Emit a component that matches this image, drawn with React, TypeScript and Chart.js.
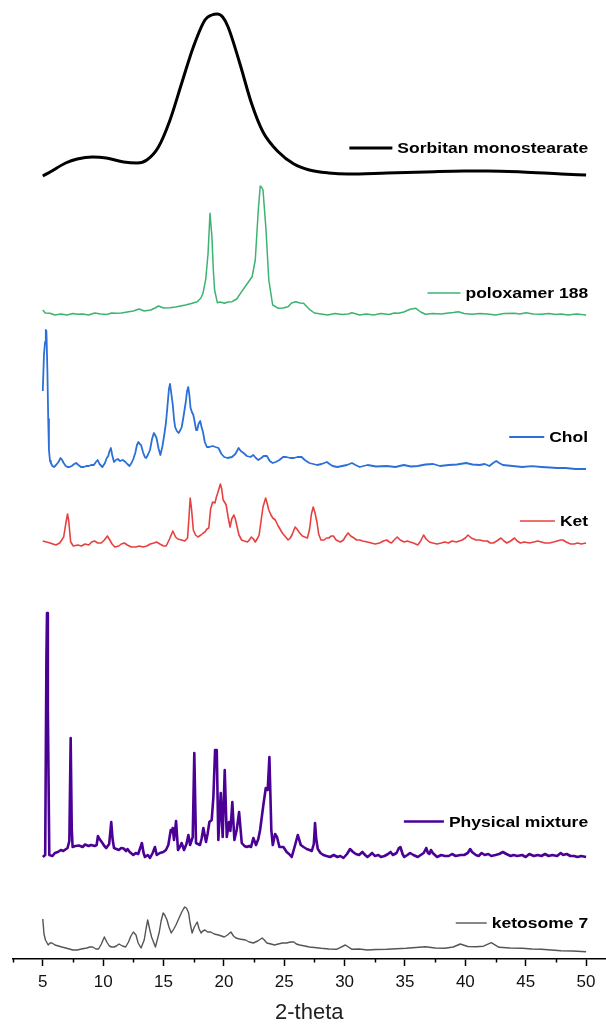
import React, { useEffect, useRef } from 'react';
import { Chart, registerables } from 'chart.js';

Chart.register(...registerables);

// 2-theta positions (deg) and stacked intensities (a.u.) for each diffractogram
const sorbitanTheta = [5.0, 5.61, 6.89, 7.85, 9.13, 10.26, 11.7, 12.82, 13.62, 14.58, 15.54, 16.51, 17.47, 18.43, 19.0, 19.45, 19.9, 20.35, 21.31, 22.28, 23.24, 24.52, 25.8, 27.08, 28.69, 30.29, 33.49, 36.7, 39.9, 41.83, 44.71, 47.92, 50.0];
const sorbitanI = [783, 787, 796, 800, 802, 801, 797, 796, 799, 812, 839, 876, 912, 939, 944, 945, 942, 932, 896, 856, 827, 807, 795, 789, 786, 785, 786, 787, 788, 788, 787, 785, 784];

const poloxamerTheta = [5.0, 5.2, 5.6, 6.0, 6.5, 7.0, 7.5, 7.85, 8.3, 8.8, 9.3, 9.8, 10.3, 10.7, 11.06, 11.5, 12.0, 12.5, 12.98, 13.4, 13.94, 14.3, 14.58, 15.0, 15.54, 16.0, 16.4, 16.83, 17.3, 17.79, 18.1, 18.27, 18.5, 18.69, 18.85, 19.01, 19.12, 19.23, 19.46, 19.7, 20.04, 20.35, 20.68, 21.06, 21.47, 21.96, 22.34, 22.6, 22.85, 23.01, 23.12, 23.24, 23.49, 23.72, 24.04, 24.52, 24.9, 25.32, 25.6, 25.96, 26.3, 26.6, 27.08, 27.5, 28.04, 28.6, 29.2, 29.8, 30.29, 30.61, 31.25, 31.8, 32.4, 33.0, 33.7, 34.1, 34.46, 34.9, 35.42, 35.9, 36.3, 36.7, 37.3, 37.98, 38.6, 39.0, 39.42, 39.9, 40.54, 41.2, 41.83, 42.5, 43.2, 44.07, 44.5, 45.03, 45.6, 46.31, 46.9, 47.5, 47.92, 48.5, 49.2, 50.0];
const poloxamerI = [649, 646, 645.7, 644, 645, 644, 645.5, 644.7, 645, 644, 646, 645, 644.5, 646, 645.7, 646, 647, 648, 650, 648, 649, 651, 653, 651, 651.3, 652, 653, 654, 655.5, 657.3, 661, 665.7, 680, 705.7, 745.7, 722.3, 690, 669, 656.3, 657, 655.7, 657, 657.3, 660, 667.3, 675.7, 682.3, 699, 749, 773, 772, 769, 729, 679, 654, 650.7, 651, 652.3, 656, 657.3, 656, 655.7, 649.7, 646, 645, 644, 645.5, 644.5, 645, 646.3, 644, 645, 644, 645.5, 644.5, 646, 645.7, 647, 649.7, 650.7, 647, 644.7, 645.5, 645, 646, 646.5, 647.3, 645.5, 644.7, 645.5, 645, 644, 645.5, 645.7, 645, 646.3, 645, 644.7, 645.5, 644.5, 645, 644, 645, 644];

const cholTheta = [5.0, 5.1, 5.19, 5.25, 5.3, 5.38, 5.45, 5.51, 5.6, 5.67, 5.8, 5.93, 6.1, 6.3, 6.47, 6.6, 6.73, 6.9, 7.05, 7.21, 7.4, 7.6, 7.76, 7.95, 8.17, 8.4, 8.6, 8.81, 9.0, 9.23, 9.4, 9.55, 9.7, 9.94, 10.15, 10.3, 10.42, 10.53, 10.64, 10.75, 10.9, 11.05, 11.22, 11.4, 11.63, 11.85, 12.0, 12.18, 12.35, 12.5, 12.66, 12.8, 12.92, 13.03, 13.14, 13.3, 13.45, 13.56, 13.7, 13.88, 14.05, 14.2, 14.3, 14.42, 14.6, 14.74, 14.9, 15.06, 15.2, 15.32, 15.45, 15.54, 15.65, 15.77, 15.87, 15.96, 16.1, 16.25, 16.4, 16.51, 16.65, 16.83, 16.95, 17.05, 17.15, 17.24, 17.35, 17.47, 17.6, 17.7, 17.79, 17.9, 18.04, 18.15, 18.27, 18.42, 18.59, 18.8, 19.07, 19.3, 19.55, 19.8, 20.03, 20.3, 20.67, 20.95, 21.22, 21.4, 21.63, 21.9, 22.2, 22.44, 22.65, 22.85, 23.1, 23.3, 23.56, 23.8, 24.04, 24.3, 24.6, 24.9, 25.16, 25.5, 25.8, 26.1, 26.44, 26.7, 27.08, 27.4, 27.72, 28.1, 28.53, 28.75, 29.01, 29.4, 29.8, 30.2, 30.61, 30.9, 31.25, 31.9, 32.6, 33.49, 34.2, 34.9, 35.5, 36.06, 36.7, 37.34, 37.9, 38.62, 39.3, 40.06, 40.6, 41.19, 41.6, 41.99, 42.3, 42.56, 42.8, 43.11, 43.9, 44.71, 45.5, 46.31, 47.0, 47.6, 48.3, 49.1, 50.0];
const cholI = [568, 605, 617, 629, 628, 589, 540, 509, 498, 496, 493, 492, 494, 497, 501, 499, 496, 493, 492, 492, 493, 495, 496, 494, 492, 492, 493, 493, 494, 494, 497, 499, 495, 492, 496, 501, 503, 508, 511, 504, 497, 499, 500, 498, 499, 497, 495, 493, 496, 500, 506, 514, 517, 515, 514, 507, 502, 501, 504, 509, 520, 526, 524, 521, 510, 504, 512, 524, 536, 552, 570, 575, 565, 554, 540, 532, 528, 526, 529, 532, 542, 556, 568, 572, 563, 551, 547, 544, 536, 529, 529, 535, 538, 532, 527, 517, 512, 512, 513, 512, 511, 505, 502, 501, 502, 505, 511, 508, 506, 503, 502, 504, 501, 499, 501, 503, 503, 498, 496, 497, 499, 502, 502, 501, 501, 502, 502, 499, 496, 495, 494, 495, 497, 495, 493, 492, 493, 494, 496, 494, 492, 494, 492.5, 493, 492, 494, 492.5, 493, 494.5, 495, 493, 494, 494.5, 496, 494.5, 494, 495, 493, 496, 498, 496, 494, 493, 492, 492.8, 492, 491.5, 491, 491, 490, 490];

const ketTheta = [5.0, 5.3, 5.6, 6.09, 6.4, 6.73, 6.9, 7.05, 7.15, 7.31, 7.53, 7.9, 8.2, 8.5, 8.81, 9.05, 9.29, 9.55, 9.84, 10.1, 10.35, 10.55, 10.74, 10.96, 11.3, 11.5, 11.76, 12.0, 12.34, 12.7, 13.0, 13.3, 13.62, 13.9, 14.2, 14.42, 14.7, 15.0, 15.22, 15.5, 15.77, 16.0, 16.19, 16.5, 16.76, 16.99, 17.1, 17.21, 17.32, 17.47, 17.65, 17.85, 18.1, 18.3, 18.43, 18.6, 18.75, 18.9, 19.07, 19.26, 19.38, 19.49, 19.71, 19.82, 19.94, 20.05, 20.19, 20.35, 20.51, 20.65, 20.83, 20.95, 21.06, 21.25, 21.47, 21.7, 21.96, 22.1, 22.28, 22.45, 22.6, 22.8, 22.92, 23.1, 23.24, 23.46, 23.6, 23.72, 23.9, 24.05, 24.26, 24.5, 24.65, 24.84, 25.05, 25.32, 25.5, 25.64, 25.9, 26.05, 26.28, 26.5, 26.7, 26.92, 27.1, 27.25, 27.4, 27.55, 27.72, 27.85, 28.04, 28.3, 28.5, 28.69, 28.9, 29.07, 29.3, 29.65, 29.9, 30.1, 30.29, 30.5, 30.77, 31.0, 31.25, 31.5, 31.89, 32.2, 32.53, 32.9, 33.2, 33.49, 33.7, 33.88, 34.1, 34.36, 34.6, 34.94, 35.2, 35.42, 35.7, 36.06, 36.3, 36.54, 36.75, 37.02, 37.3, 37.66, 38.0, 38.3, 38.6, 38.9, 39.26, 39.5, 39.74, 40.0, 40.22, 40.5, 40.87, 41.2, 41.5, 41.83, 42.05, 42.31, 42.6, 42.95, 43.2, 43.43, 43.75, 44.07, 44.3, 44.55, 44.9, 45.3, 45.67, 46.0, 46.3, 46.6, 46.96, 47.3, 47.6, 47.9, 48.08, 48.35, 48.72, 49.0, 49.3, 49.6, 50.0];
const ketI = [418, 417, 416, 414, 416, 422, 435, 445, 438, 417, 413, 414, 413, 415, 414, 417, 418, 416, 416, 419, 423, 419, 415, 412, 413, 415, 416, 414, 412, 412, 413, 412, 413, 415, 416, 417, 415, 413, 413, 420, 428, 422, 420, 419, 418, 421, 440, 461, 450, 429, 424, 422, 424, 426, 427, 430, 431, 450, 457, 456, 462, 466, 475, 470, 459, 457, 454, 442, 432, 440, 444, 440, 434, 424, 419, 418, 417, 419, 422, 420, 417, 421, 424, 440, 452, 461, 455, 449, 444, 441, 439, 433, 430, 426, 423, 419, 421, 424, 432, 430, 426, 423, 422, 421, 430, 445, 452, 446, 436, 425, 419, 419, 421, 421, 423, 423, 419, 417, 419, 423, 426, 423, 421, 419, 419, 418, 417, 416, 415, 416, 418, 419, 417, 416, 419, 422, 419, 417, 418, 417, 416, 414, 418, 424, 420, 417, 416, 415, 416, 417, 416, 418, 417, 418, 419, 421, 424, 421, 419, 419, 418, 418, 416, 416, 418, 421, 418, 416, 418, 421, 418, 416, 417, 416, 417, 418, 417, 416, 416, 417, 418, 419, 419, 417, 415, 415, 416, 415, 416];

const mixtureTheta = [5.0, 5.2, 5.3, 5.35, 5.42, 5.54, 5.8, 6.0, 6.25, 6.5, 6.7, 7.05, 7.2, 7.31, 7.4, 7.47, 7.7, 8.0, 8.3, 8.5, 8.8, 9.0, 9.3, 9.46, 9.57, 9.7, 9.94, 10.1, 10.26, 10.5, 10.67, 10.78, 10.9, 11.1, 11.3, 11.5, 11.7, 11.9, 12.02, 12.2, 12.5, 12.7, 12.9, 13.1, 13.21, 13.35, 13.46, 13.7, 13.88, 14.1, 14.29, 14.44, 14.7, 14.98, 15.2, 15.4, 15.6, 15.7, 15.76, 15.87, 16.04, 16.2, 16.35, 16.5, 16.7, 16.9, 17.06, 17.2, 17.42, 17.55, 17.69, 17.85, 18.02, 18.15, 18.3, 18.52, 18.65, 18.8, 18.99, 19.13, 19.27, 19.41, 19.54, 19.74, 19.9, 20.07, 20.24, 20.43, 20.54, 20.7, 20.87, 21.06, 21.26, 21.48, 21.7, 21.89, 22.1, 22.25, 22.44, 22.66, 22.85, 23.0, 23.27, 23.47, 23.63, 23.77, 23.93, 24.05, 24.24, 24.4, 24.6, 24.93, 25.2, 25.4, 25.62, 25.9, 26.12, 26.37, 26.6, 26.86, 27.1, 27.28, 27.45, 27.55, 27.65, 27.78, 28.0, 28.24, 28.5, 28.8, 29.1, 29.4, 29.65, 29.9, 30.2, 30.45, 30.7, 30.93, 31.2, 31.47, 31.7, 31.89, 32.1, 32.28, 32.5, 32.8, 33.01, 33.3, 33.6, 33.81, 34.0, 34.3, 34.5, 34.62, 34.8, 34.94, 35.2, 35.42, 35.7, 36.06, 36.3, 36.55, 36.76, 36.9, 37.02, 37.15, 37.3, 37.66, 38.0, 38.3, 38.62, 38.9, 39.2, 39.58, 39.9, 40.2, 40.4, 40.55, 40.87, 41.1, 41.35, 41.6, 41.9, 42.15, 42.5, 42.8, 43.11, 43.4, 43.75, 44.0, 44.3, 44.7, 45.0, 45.3, 45.67, 46.0, 46.3, 46.6, 46.9, 47.2, 47.6, 47.9, 48.1, 48.4, 48.7, 49.0, 49.3, 49.6, 50.0];
const mixtureI = [102, 104, 300, 346, 250, 104, 103, 106, 107, 109, 108, 111, 118, 221, 130, 112, 113, 113.5, 112, 114.5, 113, 114, 113, 114, 123, 120, 116, 113, 111, 115, 137, 120, 111, 110, 109, 111, 110.5, 108, 110, 107, 104, 106, 105, 112, 116, 106, 102, 104, 101, 106, 112, 104, 106, 107, 109, 114, 129, 127, 131, 119, 138, 109, 112, 116, 109, 115, 124, 114, 122, 206, 116, 115, 114, 120, 131, 117, 125, 137, 139, 162, 209, 209, 119, 166, 122, 189, 122, 137, 128, 157, 119, 129, 147, 116, 113, 112, 113, 112, 121, 114, 120, 129, 154, 171, 169, 202, 129, 114, 125, 122, 112, 112, 107, 105, 102, 114, 124, 114, 112, 110, 109, 108, 115, 136, 120, 110, 106, 104, 103, 102, 104, 102, 103, 101, 105, 110, 107, 105, 104, 107, 104, 102, 104, 106, 103, 104, 102, 103, 105, 107, 104, 106, 111, 112, 105, 102, 104, 106, 104, 102, 104, 106, 111, 106, 105, 109, 106, 102, 104, 103, 103, 105, 103, 104, 104, 106, 110, 107, 104, 103, 106, 104, 105, 103, 104, 105, 107, 105, 103, 104, 103, 104, 102, 105, 103, 104, 103, 105, 103, 104, 103, 106, 104, 105, 103, 103, 102, 103, 102];

const ketosomeTheta = [5.0, 5.1, 5.22, 5.45, 5.6, 5.77, 6.0, 6.3, 6.57, 6.9, 7.2, 7.5, 7.85, 8.2, 8.65, 8.9, 9.13, 9.4, 9.62, 9.85, 10.1, 10.3, 10.51, 10.7, 10.9, 11.1, 11.31, 11.6, 11.86, 12.1, 12.3, 12.5, 12.72, 12.9, 13.14, 13.4, 13.55, 13.69, 13.85, 14.01, 14.33, 14.5, 14.65, 14.8, 14.97, 15.1, 15.29, 15.45, 15.64, 15.85, 16.03, 16.25, 16.51, 16.65, 16.76, 16.9, 17.08, 17.2, 17.37, 17.55, 17.79, 17.95, 18.11, 18.25, 18.43, 18.65, 18.91, 19.2, 19.55, 19.8, 20.03, 20.3, 20.58, 20.8, 20.99, 21.3, 21.79, 22.1, 22.44, 22.8, 23.17, 23.35, 23.56, 23.9, 24.2, 24.5, 24.84, 25.2, 25.5, 25.8, 26.0, 26.28, 26.7, 27.08, 27.5, 28.04, 28.7, 29.33, 30.06, 30.61, 31.2, 31.89, 32.6, 33.49, 34.3, 35.1, 35.9, 36.7, 37.5, 38.3, 39.0, 39.58, 40.2, 40.87, 41.5, 42.15, 42.79, 43.7, 44.71, 45.5, 46.31, 47.1, 47.92, 48.9, 50.0];
const ketosomeI = [40, 25, 19, 14, 16, 16, 14, 13, 12, 11, 10, 9, 9, 10, 11, 12, 12, 10, 10, 15, 22, 17, 13, 12, 12, 13, 15, 13, 12, 17, 23, 27, 24, 16, 11, 19, 30, 39, 30, 22, 12, 20, 27, 38, 46, 44, 39, 32, 26, 30, 34, 40, 47, 50, 52, 51, 46, 36, 26, 32, 37, 30, 26, 28, 29, 27, 27, 25, 24, 23, 22, 24, 27, 23, 21, 20, 19, 17, 16, 18, 21, 19, 16, 15, 14, 15, 16, 16, 17, 17, 15, 14, 13, 12, 11.5, 10.7, 10, 9.7, 14, 9.7, 10, 9, 9.5, 9.7, 10.3, 10.7, 11.5, 12.3, 11, 10.7, 12, 15, 12.5, 12.3, 12.8, 16.3, 11.7, 11, 10.7, 10, 9.7, 9, 8.3, 8, 7.3];

const seriesLabels = ['Sorbitan monostearate', 'poloxamer 188', 'Chol', 'Ket', 'Physical mixture', 'ketosome 7'];
const seriesTheta = [sorbitanTheta, poloxamerTheta, cholTheta, ketTheta, mixtureTheta, ketosomeTheta];
const seriesIntensity = [sorbitanI, poloxamerI, cholI, ketI, mixtureI, ketosomeI];

const majorTicks = [5, 10, 15, 20, 25, 30, 35, 40, 45, 50];
const minorTicks = [2.5, 7.5, 12.5, 17.5, 22.5, 27.5, 32.5, 37.5, 42.5, 47.5];

// drawing styles
const seriesColors = ['#000000', '#3cb371', '#2a70d8', '#e8403f', '#4b0096', '#555555'];
const seriesWidths = [3, 1.5, 1.8, 1.6, 2.6, 1.4];
const legendAnchorY = [811, 666, 522, 438, 137.5, 36];
const legendSampleLen = [43, 33, 35, 35, 40, 31];

const minorTickPlugin = {
  id: 'minorTicks',
  afterDraw(chart: any) {
    const x = chart.scales.x;
    const ctx = chart.ctx;
    ctx.save();
    ctx.strokeStyle = '#000';
    ctx.lineWidth = 1.5;
    minorTicks.forEach((v) => {
      const px = Math.round(x.getPixelForValue(v)) + 0.5;
      ctx.beginPath();
      ctx.moveTo(px, x.top);
      ctx.lineTo(px, x.top + 3.5);
      ctx.stroke();
    });
    ctx.restore();
  },
};

const seriesLegendPlugin = {
  id: 'seriesLegend',
  afterDatasetsDraw(chart: any, _args: any, opts: any) {
    const { ctx } = chart;
    const xs = chart.scales.x;
    const ys = chart.scales.y;
    const right = xs.getPixelForValue(opts.rightAt);
    chart.data.datasets.forEach((ds: any, i: number) => {
      const yPix = ys.getPixelForValue(opts.anchors[i]);
      ctx.save();
      ctx.font = 'bold 15.5px "Liberation Sans", Arial, sans-serif';
      const w = ctx.measureText(ds.label).width * opts.stretch;
      const textLeft = right - w;
      ctx.strokeStyle = ds.borderColor;
      ctx.lineWidth = ds.borderWidth;
      ctx.beginPath();
      ctx.moveTo(textLeft - opts.gap - opts.lengths[i], yPix);
      ctx.lineTo(textLeft - opts.gap, yPix);
      ctx.stroke();
      ctx.translate(textLeft, yPix);
      ctx.scale(opts.stretch, 1);
      ctx.fillStyle = '#000';
      ctx.textBaseline = 'middle';
      ctx.textAlign = 'left';
      ctx.fillText(ds.label, 0, 1);
      ctx.restore();
    });
  },
};

export default function App() {
  const canvasRef = useRef<HTMLCanvasElement | null>(null);

  useEffect(() => {
    const canvas = canvasRef.current;
    if (!canvas) return;

    const datasets = seriesLabels.map((label, i) => ({
      label,
      data: seriesTheta[i].map((t, j) => ({ x: t, y: seriesIntensity[i][j] })),
      borderColor: seriesColors[i],
      backgroundColor: seriesColors[i],
      borderWidth: seriesWidths[i],
      pointRadius: 0,
      fill: false,
      borderJoinStyle: 'round' as const,
      cubicInterpolationMode: i === 0 ? ('monotone' as const) : ('default' as const),
      tension: 0,
    }));

    const chart = new Chart(canvas, {
      type: 'line',
      data: { datasets },
      options: {
        animation: false,
        responsive: false,
        devicePixelRatio: 1,
        layout: { padding: { left: 12.6, right: 0, top: 9, bottom: 0 } },
        plugins: {
          legend: { display: false },
          tooltip: { enabled: false },
          seriesLegend: {
            rightAt: 50.17,
            anchors: legendAnchorY,
            lengths: legendSampleLen,
            gap: 5,
            stretch: 1.13,
          },
        } as any,
        scales: {
          x: {
            type: 'linear',
            position: 'bottom',
            min: 2.5,
            max: 51.65,
            afterBuildTicks: (scale: any) => {
              scale.ticks = [...minorTicks, ...majorTicks]
                .sort((a, b) => a - b)
                .map((v) => ({ value: v }));
            },
            afterFit: (scale: any) => {
              scale.height = 65;
              scale.paddingLeft = 0;
              scale.paddingRight = 0;
            },
            ticks: {
              autoSkip: false,
              maxRotation: 0,
              padding: 6,
              color: '#111',
              font: { family: '"Liberation Sans", Arial, sans-serif', size: 17 },
              callback: (v: any) => (majorTicks.includes(Number(v)) ? String(v) : ''),
            },
            grid: {
              display: true,
              drawOnChartArea: false,
              drawTicks: true,
              tickLength: 7,
              tickWidth: 1.5,
              tickColor: (c: any) => (c.tick && majorTicks.includes(c.tick.value) ? '#000' : 'rgba(0,0,0,0)'),
            },
            border: { display: true, color: '#000', width: 1.5 },
            title: {
              display: true,
              text: '2-theta',
              color: '#222',
              padding: 0,
              font: { family: '"Liberation Sans", Arial, sans-serif', size: 22, lineHeight: 1 },
            },
          },
          y: {
            type: 'linear',
            display: false,
            min: 0,
            max: 950,
          },
        },
      },
      plugins: [minorTickPlugin, seriesLegendPlugin],
    });

    return () => chart.destroy();
  }, []);

  return (
    <div style={{ position: 'absolute', left: 0, top: 0, width: 606, height: 1024, background: '#fff' }}>
      <canvas ref={canvasRef} width={606} height={1024} style={{ display: 'block' }} />
    </div>
  );
}
